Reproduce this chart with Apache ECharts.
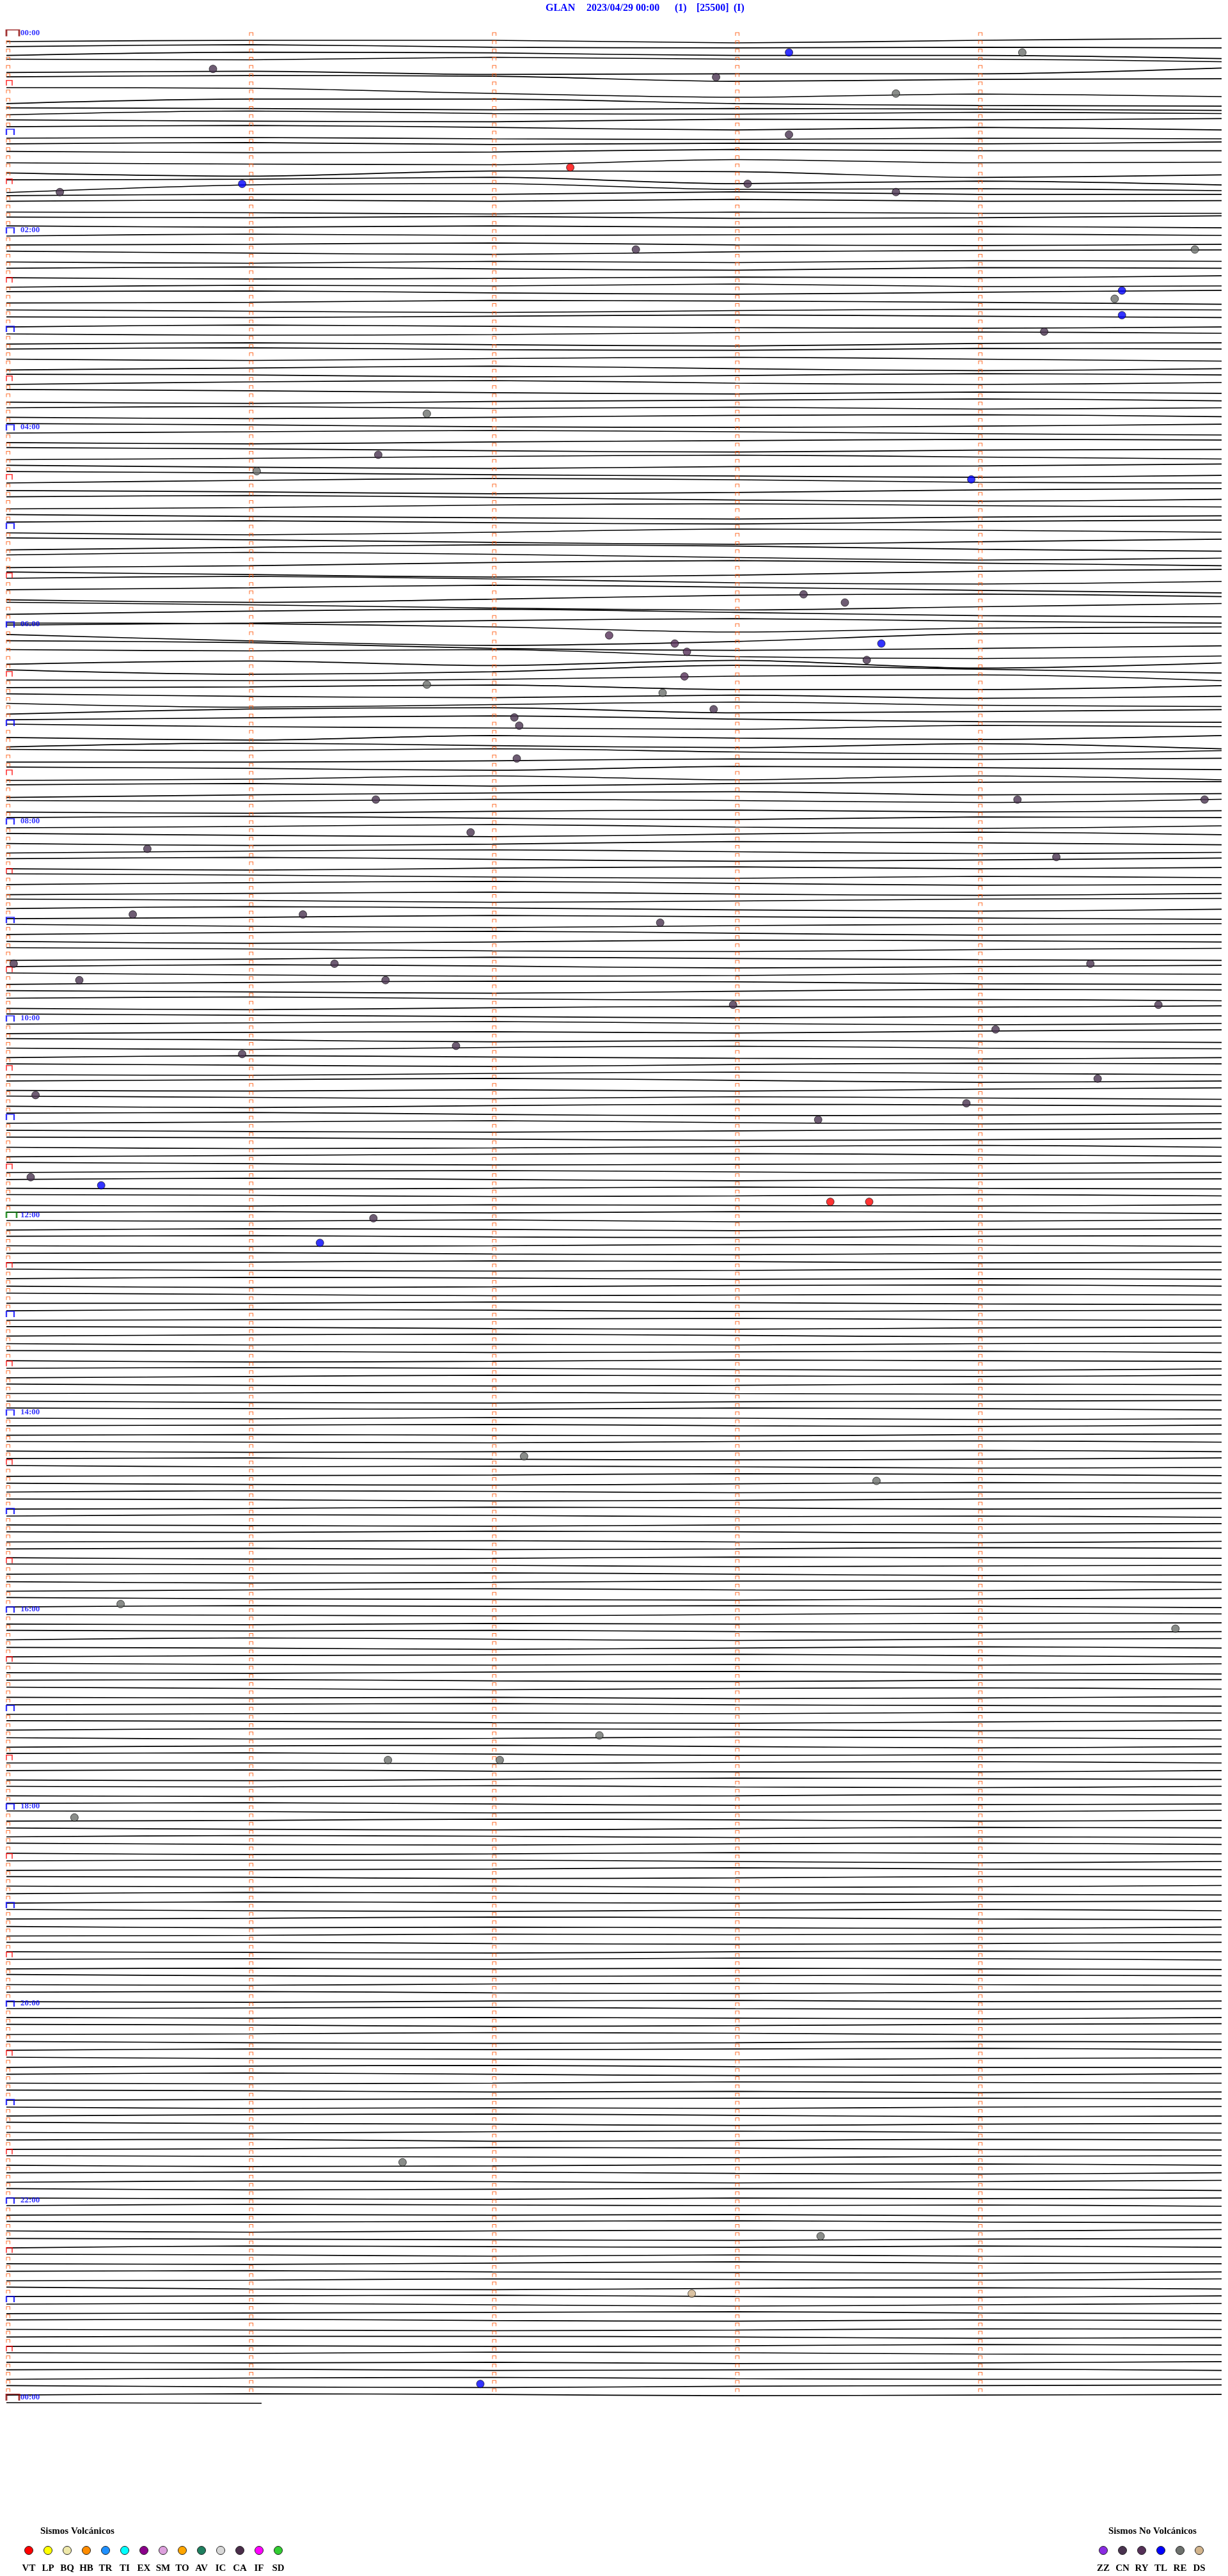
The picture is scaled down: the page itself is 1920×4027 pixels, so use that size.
<!DOCTYPE html>
<html><head><meta charset="utf-8">
<script src="https://cdn.jsdelivr.net/npm/echarts@6/dist/echarts.min.js"></script>
<style>html,body{margin:0;padding:0;background:#fff}#c{width:1920px;height:4027px}</style>
</head><body><div id="c"></div>
<script>
// ---------- DATA ----------
const ROW_MINUTES = 5;          // each helicorder row spans 5 minutes
const ROWS = 288;               // 24 h of rows (+ one partial row)
const COUNTS_PER_ROW = 12.83;   // amplitude counts equal to one row spacing
const TRACE_BASE = 10;          // trace rest level (counts below row mark)
const lastRowMinutes = 1.05;    // partial row of next day

const titleParts = ['GLAN', '2023/04/29 00:00', '(1)', '[25500]', '(I)'];
const hourLabels = ['00:00','02:00','04:00','06:00','08:00','10:00','12:00','14:00','16:00','18:00','20:00','22:00','00:00'];

// trace amplitude (counts) sampled once per minute, one array per row
const traceAmp = [
// 00h
[5,3,3,7,3,0],[0,-3,1,2,1,2],[1,-4,-3,1,1,6],[-6,-5,-9,-6,-6,-2],[2,0,5,4,4,-5],[-4,-6,-5,3,0,-1],
[0,1,9,15,10,14],[12,5,5,12,15,16],[6,7,9,7,8,10],[4,-2,2,3,0,2],[-1,1,2,-2,-1,-3],[-3,-5,-2,2,-2,2],
// 01h
[2,1,3,4,2,3],[-2,-4,-1,-3,-2,-5],[-3,-1,-2,-6,-4,-4],[2,4,5,-3,2,1],[5,10,2,3,12,8],[3,2,-1,9,5,11],
[10,-2,-4,5,4,7],[2,0,0,-4,0,0],[-2,-4,-2,-5,-2,-3],[2,3,5,2,4,4],[-3,-2,-4,-1,-2,-5],[-2,0,-2,0,-1,1],
// 02h
[1,-2,0,-1,-2,0],[2,1,-1,2,3,1],[-1,2,4,0,-2,-3],[3,5,2,4,1,2],[0,-2,1,3,-1,0],[2,4,3,1,2,-1],
[4,1,2,-1,3,2],[-2,-3,0,2,-1,-4],[3,2,-1,0,2,5],[1,3,5,2,0,1],[-1,0,-2,-4,-2,0],[2,-1,1,3,4,2],
// 03h
[0,2,1,-2,-3,-1],[3,1,4,6,2,1],[-2,-4,-1,0,-3,-2],[1,3,0,-2,1,4],[5,2,-1,3,6,3],[-1,0,3,1,-2,0],
[2,-2,-4,0,2,-1],[-3,-1,2,4,1,3],[4,6,3,1,-1,2],[0,-2,1,-1,2,0],[2,4,2,-1,-2,1],[-1,1,4,5,3,0],
// 04h
[1,-1,-3,-1,2,4],[3,5,2,0,-2,-1],[-2,0,3,5,2,1],[4,2,-1,-3,0,3],[0,3,5,2,1,-2],[-3,-1,2,4,6,3],
[2,-2,-5,-3,1,2],[1,3,6,4,0,-2],[-2,-4,-1,3,5,2],[4,2,-2,-4,-1,1],[0,3,5,7,4,2],[-1,-3,0,2,-2,-4],
// 05h
[3,6,2,-3,-1,2],[-2,1,5,8,4,0],[4,0,-4,-2,3,6],[-1,-5,-2,3,7,4],[6,3,-2,-5,-1,3],[0,4,8,5,-1,-4],
[-3,-6,-2,4,6,2],[2,-1,-5,-2,3,7],[5,9,4,-2,-4,0],[-4,0,5,8,3,-2],[2,-3,-6,-1,4,6],[6,3,-1,-4,0,3],
// 06h
[-10,-9,-4,4,-2,-4],[-5,5,12,6,-6,-7],[-8,-5,4,7,4,0],[-7,-5,-7,4,7,3],[3,-2,5,-3,9,1],[-1,6,2,-8,-2,4],
[2,3,1,-4,-6,3],[1,0,-3,4,4,-2],[-2,2,4,0,5,2],[0,6,2,-2,3,5],[4,-4,-6,2,0,-3],[0,-3,-6,-1,3,4],
// 07h
[-6,-2,0,2,-4,-2],[2,6,-1,3,5,-1],[4,-2,2,5,-1,7],[-5,-3,-6,-1,2,-3],[2,2,0,-3,-2,-4],[-3,-1,2,-4,-2,1],
[5,3,-2,4,-2,4],[-1,-3,1,-3,-5,-6],[6,2,-1,-3,2,0],[-2,-1,-4,-2,1,-4],[3,5,2,0,3,1],[-1,-3,0,2,-2,-1],
// 08h
[2,0,-3,1,3,-1],[-2,1,3,-1,-4,0],[1,4,2,-2,0,3],[3,0,-2,1,4,2],[-1,-3,0,3,1,-2],[2,4,1,-1,2,0],
[-3,-1,2,4,1,3],[1,-2,-4,-1,2,1],[4,2,0,3,5,2],[-2,0,3,1,-2,-3],[0,-3,-1,2,4,1],[3,1,-2,0,2,4],
// 09h
[-1,2,4,1,-1,-2],[2,-1,-3,0,3,2],[0,3,1,-2,-1,1],[-3,-1,2,3,0,-2],[4,2,-1,1,3,4],[1,-2,0,3,1,-1],
[-2,1,3,2,-1,0],[3,0,-2,-1,2,3],[0,2,4,1,-2,-1],[-1,-3,0,2,1,3],[2,4,1,-1,0,-2],[-2,0,2,4,2,1],
// 10h
[1,-1,-3,0,2,0],[3,1,0,2,-1,-3],[-2,0,3,1,2,4],[0,2,-1,-3,0,1],[2,-1,1,3,4,2],[-1,1,3,0,-2,-1],
[3,4,1,-1,1,3],[0,-2,-4,-1,2,0],[2,3,1,3,0,-2],[-2,0,2,-1,1,3],[1,3,0,-2,-1,1],[-1,-2,1,3,2,0],
// 11h
[2,0,-2,1,3,1],[0,2,3,1,-1,-2],[-2,-1,1,3,2,0],[1,3,2,0,-2,1],[3,1,-1,-2,0,2],[-1,1,3,2,1,-1],
[2,0,-1,1,3,2],[0,-2,0,2,0,-1],[1,2,1,-1,1,2],[-2,-1,1,0,-2,0],[2,3,1,2,3,1],[0,-1,1,-1,0,2],
// 12h
[0,1,-1,2,1,-1],[2,0,1,3,1,0],[-1,-2,0,1,-1,-2],[1,2,1,-1,0,2],[0,-1,1,2,0,-1],[2,1,-1,0,2,1],
[-1,1,2,1,-1,0],[1,-1,0,2,1,2],[0,2,1,-1,-2,0],[-2,0,2,1,0,1],[1,1,-1,0,2,3],[0,-2,-1,1,0,-1],
// 13h
[2,1,0,-1,1,2],[-1,0,2,3,1,0],[1,-1,-2,0,2,1],[0,2,1,2,0,-1],[-2,-1,1,0,-1,1],[1,3,2,0,1,2],
[0,-1,0,2,3,1],[2,0,-2,-1,0,-2],[-1,1,2,1,-1,0],[1,0,-1,1,2,3],[0,2,3,1,0,-1],[-2,-1,0,-2,-1,1],
// 14h
[1,2,0,1,3,2],[0,-1,-2,0,1,-1],[2,1,2,3,1,0],[-1,0,1,-1,-2,0],[1,3,2,1,0,2],[0,-1,1,2,1,-1],
[-2,0,-1,0,2,1],[2,1,0,-2,-1,1],[0,2,3,1,-1,0],[1,-1,0,2,1,2],[-1,0,2,1,-1,-2],[2,1,-1,0,2,1],
// 15h
[0,-2,-1,1,0,2],[1,2,3,1,0,-1],[-1,0,-2,-1,1,0],[2,1,0,2,3,1],[0,-1,1,0,-2,-1],[1,3,2,0,1,2],
[-2,-1,0,2,1,0],[1,0,-1,1,3,2],[0,2,1,-1,-1,1],[2,0,-2,0,1,-1],[-1,1,2,3,1,0],[1,-1,0,-1,0,2],
// 16h
[0,1,2,0,-2,-1],[2,3,1,2,1,0],[-1,0,-1,1,2,1],[1,-2,0,2,0,-1],[0,1,3,1,-1,1],[2,0,-1,-2,0,2],
[-1,1,2,1,2,0],[1,2,0,-1,1,3],[0,-1,1,2,0,-1],[-2,0,2,0,-1,1],[1,2,1,3,2,0],[0,-1,-2,0,1,2],
// 17h
[2,1,0,1,-1,0],[-1,0,2,3,1,-1],[1,-1,-1,0,2,1],[0,2,1,-1,0,2],[2,0,-1,1,3,1],[-1,-2,0,2,1,0],
[1,1,2,0,-1,1],[0,-1,1,2,2,0],[2,3,1,-1,0,1],[-1,0,-2,0,1,-1],[1,2,2,1,-1,0],[0,-1,1,3,2,1],
// 18h
[-1,0,2,1,0,-2],[2,1,-1,0,2,1],[0,2,3,1,-1,0],[1,-1,0,2,1,2],[-2,0,1,-1,-2,0],[1,3,2,0,1,2],
[0,-1,-1,1,3,1],[2,1,0,-2,0,1],[-1,0,2,1,-1,-1],[1,2,1,3,2,0],[0,-2,-1,0,1,2],[2,0,1,2,0,-1],
// 19h
[-1,1,2,0,-1,1],[1,0,-2,-1,1,2],[0,2,1,2,3,1],[2,1,-1,0,-1,0],[-1,-1,1,2,1,-1],[1,2,3,1,0,1],
[0,-1,0,-2,-1,1],[2,1,2,1,2,3],[-2,0,1,0,-1,0],[1,2,0,-1,1,2],[0,-1,1,2,0,-1],[2,3,1,0,2,1],
// 20h
[0,-1,-2,0,1,0],[1,2,1,2,3,1],[-1,0,2,1,-1,-2],[2,1,-1,0,2,1],[0,2,3,2,0,1],[1,-1,0,-1,-2,0],
[-1,1,2,3,1,0],[2,0,-1,1,2,2],[0,-2,0,2,1,-1],[1,2,1,-1,0,1],[-1,0,2,1,3,2],[2,1,0,-1,-1,0],
// 21h
[0,2,1,2,0,-1],[1,-1,-2,0,2,1],[-2,0,1,3,1,0],[1,2,0,-1,1,2],[0,-1,2,1,-1,0],[2,1,-1,0,2,3],
[-1,0,1,2,0,-1],[1,3,2,0,-1,1],[0,-1,-1,1,2,0],[2,0,1,3,1,-1],[-1,1,0,-1,0,2],[1,2,3,1,2,1],
// 22h
[0,-2,-1,0,-1,1],[2,1,2,1,3,2],[-1,0,-1,-2,0,1],[1,3,1,0,1,-1],[0,1,2,3,1,0],[2,-1,0,1,-1,1],
[-1,0,2,0,2,3],[1,2,0,-2,0,1],[0,-1,1,2,3,1],[2,1,-1,0,1,-1],[-1,2,3,1,0,2],[1,0,-1,1,2,0],
// 23h
[0,-1,1,3,1,-1],[2,1,0,-1,1,2],[-1,-2,0,1,-1,0],[1,2,3,2,0,1],[0,-1,-1,0,2,1],[2,1,2,1,-1,0],
[-1,0,-2,-1,1,2],[1,2,1,3,2,0],[0,-1,1,0,-1,1],[2,0,-1,1,2,2],[-1,1,2,0,-1,-2],[1,-1,0,2,1,0],
// next day 00h (partial)
[0,1]
];

// events: minute of day and type
const eventTimes = [13.22,14.18,20.85,27.92,38.66,63.22,82.32,90.97,93.05,95.22,98.66,132.59,134.89,159.59,164.56,174.59,184.27,231.73,256.53,266.03,273.97,
343.28,348.45,367.48,372.75,373.60,377.80,383.54,392.79,396.73,402.70,412.91,417.09,422.11,442.10,466.52,469.16,469.93,486.91,495.58,504.32,
535.52,536.22,542.69,565.03,566.35,569.46,575.30,576.56,594.74,592.99,609.07,616.85,620.97,639.49,645.12,653.95,663.34,695.10,700.39,713.39,713.55,721.51,736.29,
867.13,883.58,955.47,974.81,1037.44,1051.57,1052.03,1085.28,1296.63,1343.35,1377.82,1431.95];
const eventTypes = ['TL','RE','CN','CN','RE','CN','VT','TL','CN','CN','CN','CN','RE','TL','RE','TL','CN','RE','CN','RE','TL',
'CN','CN','RY','RY','TL','RY','CN','RY','RE','RE','CN','CN','CN','CN','CN','CN','CN','CN','CN','CN',
'CN','CN','CN','CN','CN','CN','CN','CN','CN','CN','CN','CN','CN','CN','CN','CN','CN','CN','TL','VT','VT','CN','TL',
'RE','RE','RE','RE','RE','RE','RE','RE','RE','RE','DS','TL'];

const volcanicTypes  = ['VT','LP','BQ','HB','TR','TI','EX','SM','TO','AV','IC','CA','IF','SD'];
const volcanicColors = ['#ff0000','#ffff00','#eee8aa','#ff8c00','#1e90ff','#00ffff','#8b008b','#dda0dd','#ffa500','#1f7f5f','#d8d8d8','#4b2d4b','#ff00ff','#32cd32'];
const nonVolcanicTypes  = ['ZZ','CN','RY','TL','RE','DS'];
const nonVolcanicColors = ['#8a2be2','#4a3350','#553058','#0000ff','#6d716d','#d2b48c'];

// ---------- BUILD ----------
const typeColor = {};
volcanicTypes.forEach((t,i)=>typeColor[t]=volcanicColors[i]);
nonVolcanicTypes.forEach((t,i)=>typeColor[t]=nonVolcanicColors[i]);

const ORANGE = '#ff5000';
const series = [];

traceAmp.forEach((amps, r) => {
  const span = r === ROWS ? lastRowMinutes : ROW_MINUTES;
  const n = amps.length;
  series.push({
    type: 'line', silent: true, animation: false, symbol: 'none', smooth: 0.3,
    clip: false, z: 2,
    lineStyle: { color: '#000', width: 1.6 },
    data: amps.map((a, i) => [i * span / (n - 1), r + (TRACE_BASE + a) / COUNTS_PER_ROW])
  });
});

const BR = 'path://M0,10L0,0L10,0L10,10';
function markSeries(data, color, size, offset, width) {
  return { type: 'scatter', silent: true, animation: false, z: 3, clip: false,
    symbol: BR, symbolSize: size, symbolOffset: offset,
    itemStyle: { color: 'rgba(0,0,0,0)', borderColor: color, borderWidth: width },
    data: data };
}
const minuteMarks = [], leftMarks = [], hourMarks = [], halfMarks = [];
for (let r = 0; r < ROWS; r++) {
  for (let m = 1; m < ROW_MINUTES; m++) minuteMarks.push([m, r]);
  if (r === 0 || r === 144) continue;
  if (r % 12 === 0) hourMarks.push([0, r]);
  else if (r % 12 === 6) halfMarks.push([0, r]);
  else leftMarks.push([0, r]);
}
series.push(markSeries(minuteMarks, ORANGE, [5.5, 5], [2.75, 3.5], 1));
series.push(markSeries(leftMarks, ORANGE, [5.5, 5], [2.75, 3.5], 1));
series.push(markSeries(halfMarks, '#ff0000', [9, 8], [4.5, 2.7], 1.5));
series.push(markSeries(hourMarks, '#0000ff', [12, 9], [6, 2.5], 2));
series.push(markSeries([[0, 0], [0, ROWS]], '#8b0000', [20, 10], [10, 1.7], 2));
series.push(markSeries([[0, 144]], '#008000', [16, 9], [8, 1.5], 2));

// hour labels every 2 hours
series.push({
  type: 'scatter', silent: true, animation: false, z: 4, clip: false,
  symbolSize: 1, itemStyle: { color: 'rgba(0,0,0,0)' },
  label: { show: true, position: 'right', distance: 21.5, offset: [0, 2], formatter: '{b}',
    color: '#0000ff', fontFamily: 'Liberation Serif', fontWeight: 'bold', fontSize: 13 },
  data: hourLabels.map((t, i) => ({ name: t, value: [0, i * 24] }))
});

// events
series.push({
  type: 'scatter', silent: true, animation: false, z: 6, clip: false,
  symbolSize: 12,
  data: eventTimes.map((t, i) => {
    const r = Math.floor(t / ROW_MINUTES);
    return { value: [t - r * ROW_MINUTES, r + 0.5],
      itemStyle: { color: typeColor[eventTypes[i]], borderColor: '#000', borderWidth: 0.8 } };
  })
});

// title + legend (page furniture)
const graphic = [];
const titleX = [853, 917, 1055, 1089, 1147];
titleParts.forEach((t, i) => graphic.push({ type: 'text', x: titleX[i], y: 13,
  style: { text: t, fill: '#0000ff', font: 'bold 16px "Liberation Serif"', textVerticalAlign: 'middle' } }));
function legend(types, colors, headerX, startX, header) {
  graphic.push({ type: 'text', x: headerX, y: 3957,
    style: { text: header, fill: '#000', font: 'bold 15px "Liberation Serif"', textVerticalAlign: 'middle' } });
  types.forEach((t, i) => {
    const cx = startX + i * 30;
    graphic.push({ type: 'circle', shape: { cx: cx, cy: 3987, r: 6.5 },
      style: { fill: colors[i], stroke: '#222', lineWidth: 1 } });
    graphic.push({ type: 'text', x: cx, y: 4015,
      style: { text: t, fill: '#000', font: 'bold 15px "Liberation Serif"', textAlign: 'center', textVerticalAlign: 'middle' } });
  });
}
legend(volcanicTypes, volcanicColors, 63, 45, 'Sismos Volcánicos');
legend(nonVolcanicTypes, nonVolcanicColors, 1733, 1725, 'Sismos No Volcánicos');

const chart = echarts.init(document.getElementById('c'), null, { renderer: 'canvas' });
chart.setOption({
  backgroundColor: '#ffffff',
  animation: false,
  grid: { left: 10, right: 10, top: 50, bottom: 281 },
  xAxis: { type: 'value', min: 0, max: ROW_MINUTES, show: false },
  yAxis: { type: 'value', min: 0, max: ROWS, inverse: true, show: false },
  series: series,
  graphic: graphic
});
</script></body></html>
